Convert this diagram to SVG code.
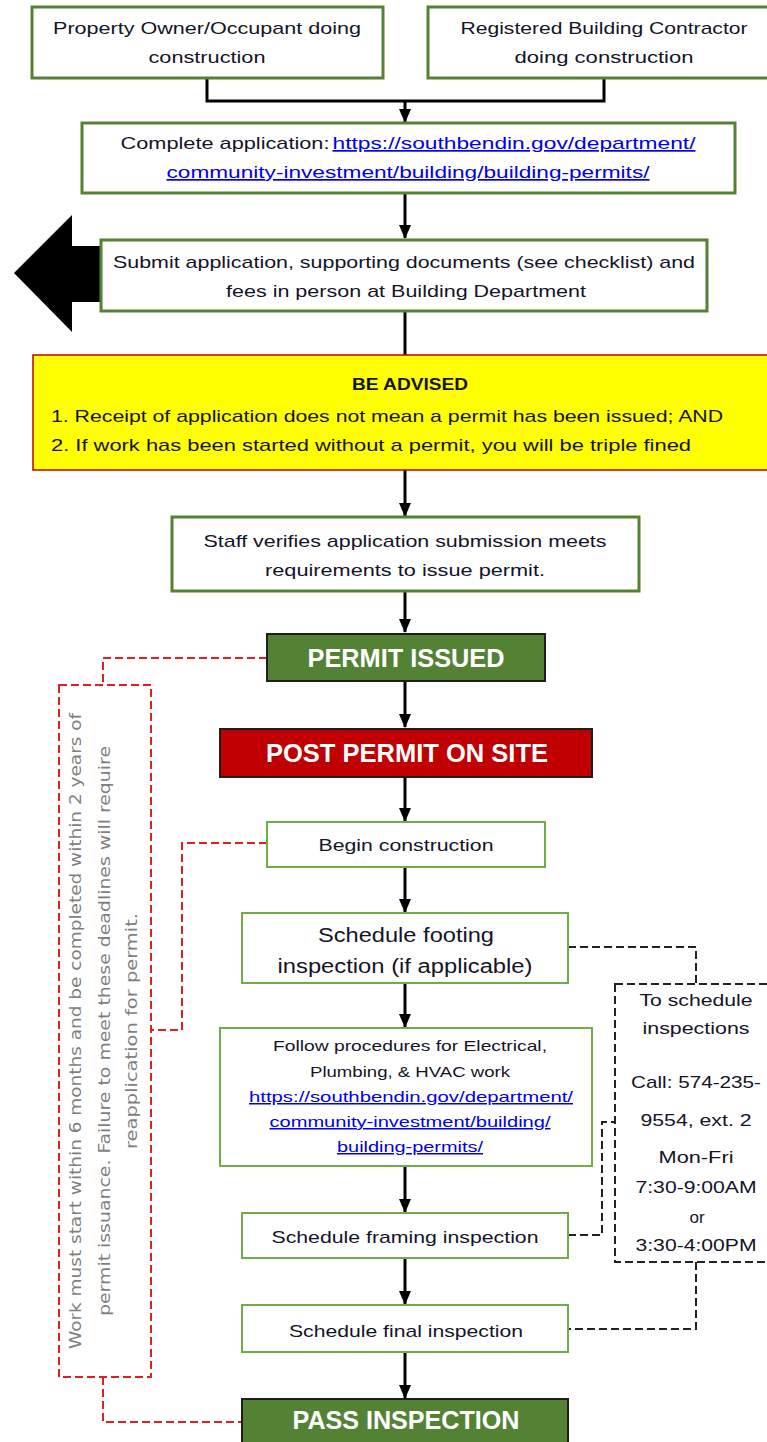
<svg xmlns="http://www.w3.org/2000/svg" width="767" height="1442" viewBox="0 0 767 1442">
<style>
text{font-family:"Liberation Sans",Arial,sans-serif;fill:#141428;text-anchor:middle}
.t{font-size:17px}
.s{font-size:15px}
.b{font-size:20px}
.h{font-size:25px;font-weight:bold;fill:#fff}
.lk{fill:#0000ee;text-decoration:underline}
.gb{fill:#fff;stroke:#548235;stroke-width:3}
.gt{fill:#fff;stroke:#70ad47;stroke-width:2}
.ln{fill:none;stroke:#000;stroke-width:3}
.rd{fill:none;stroke:#e02020;stroke-width:2;stroke-dasharray:8 4}
.bd{fill:none;stroke:#222;stroke-width:2;stroke-dasharray:8 4}
.rot{font-family:"DejaVu Sans",Verdana,sans-serif;font-size:15px;fill:#7f7f7f}
</style>
<defs>
<marker id="ah" markerUnits="userSpaceOnUse" markerWidth="14" markerHeight="12" viewBox="0 0 14 12" refX="13" refY="6" orient="auto">
<path d="M0,0 L14,6 L0,12 Z" fill="#000"/>
</marker>
</defs>
<rect width="767" height="1442" fill="#fff"/>

<g id="connectors">
<polyline class="ln" points="207,78 207,101 604,101 604,78"/>
<line class="ln" x1="405" y1="101" x2="405" y2="122" marker-end="url(#ah)"/>
<line class="ln" x1="405" y1="193" x2="405" y2="238" marker-end="url(#ah)"/>
<line class="ln" x1="405" y1="311" x2="405" y2="356"/>
<line class="ln" x1="405" y1="470" x2="405" y2="516" marker-end="url(#ah)"/>
<line class="ln" x1="405" y1="591" x2="405" y2="632" marker-end="url(#ah)"/>
<line class="ln" x1="405" y1="681" x2="405" y2="727" marker-end="url(#ah)"/>
<line class="ln" x1="405" y1="777" x2="405" y2="821" marker-end="url(#ah)"/>
<line class="ln" x1="405" y1="867" x2="405" y2="912" marker-end="url(#ah)"/>
<line class="ln" x1="405" y1="983" x2="405" y2="1027" marker-end="url(#ah)"/>
<line class="ln" x1="405" y1="1166" x2="405" y2="1212" marker-end="url(#ah)"/>
<line class="ln" x1="405" y1="1258" x2="405" y2="1304" marker-end="url(#ah)"/>
<line class="ln" x1="405" y1="1352" x2="405" y2="1398" marker-end="url(#ah)"/>
<polyline class="rd" points="267,658 103,658 103,685"/>
<polyline class="rd" points="267,843 182,843 182,1030 151,1030"/>
<polyline class="rd" points="103,1377 103,1422 242,1422"/>
<polyline class="bd" points="568,947 696,947 696,984"/>
<polyline class="bd" points="568,1235 602,1235 602,1122 615,1122"/>
<polyline class="bd" points="696,1262 696,1329 568,1329"/>
</g>

<g id="bigarrow">
<polygon points="14,273 72,215 72,246 110,246 110,302 72,302 72,332" fill="#000"/>
</g>

<g id="owner">
<rect class="gb" x="32" y="7" width="351" height="71"/>
<text class="t" x="207" y="34" textLength="308" lengthAdjust="spacingAndGlyphs">Property Owner/Occupant doing</text>
<text class="t" x="207" y="63" textLength="117" lengthAdjust="spacingAndGlyphs">construction</text>
</g>
<g id="contractor">
<rect class="gb" x="428" y="7" width="345" height="71"/>
<text class="t" x="604" y="34" textLength="287" lengthAdjust="spacingAndGlyphs">Registered Building Contractor</text>
<text class="t" x="604" y="63" textLength="179" lengthAdjust="spacingAndGlyphs">doing construction</text>
</g>
<g id="complete">
<rect class="gb" x="82" y="123" width="653" height="70"/>
<text class="t" x="225" y="149" textLength="209" lengthAdjust="spacingAndGlyphs">Complete application:</text>
<text class="t lk" x="514" y="149" textLength="363" lengthAdjust="spacingAndGlyphs">https://southbendin.gov/department/</text>
<text class="t lk" x="408" y="178" textLength="483" lengthAdjust="spacingAndGlyphs">community-investment/building/building-permits/</text>
</g>
<g id="submit">
<rect class="gb" x="101" y="240" width="606" height="71"/>
<text class="t" x="404" y="268" textLength="582" lengthAdjust="spacingAndGlyphs">Submit application, supporting documents (see checklist) and</text>
<text class="t" x="406" y="297" textLength="360" lengthAdjust="spacingAndGlyphs">fees in person at Building Department</text>
</g>
<g id="advised">
<rect x="33" y="355" width="745" height="115" fill="#ffff00" stroke="#c00000" stroke-width="1.5"/>
<text class="t" x="410" y="390" font-weight="bold" textLength="116" lengthAdjust="spacingAndGlyphs">BE ADVISED</text>
<text class="t" x="51" y="422" style="text-anchor:start" textLength="672" lengthAdjust="spacingAndGlyphs">1. Receipt of application does not mean a permit has been issued; AND</text>
<text class="t" x="51" y="451" style="text-anchor:start" textLength="640" lengthAdjust="spacingAndGlyphs">2. If work has been started without a permit, you will be triple fined</text>
</g>
<g id="staff">
<rect class="gb" x="172" y="517" width="467" height="74"/>
<text class="t" x="405" y="547" textLength="403" lengthAdjust="spacingAndGlyphs">Staff verifies application submission meets</text>
<text class="t" x="405" y="576" textLength="280" lengthAdjust="spacingAndGlyphs">requirements to issue permit.</text>
</g>
<g id="permit-issued">
<rect x="267" y="634" width="278" height="47" fill="#548235" stroke="#1e1e1e" stroke-width="2"/>
<text class="h" x="406" y="667" textLength="197" lengthAdjust="spacingAndGlyphs">PERMIT ISSUED</text>
</g>
<g id="post-permit">
<rect x="220" y="729" width="372" height="48" fill="#c00000" stroke="#1e1e1e" stroke-width="2"/>
<text class="h" x="407" y="762" textLength="282" lengthAdjust="spacingAndGlyphs">POST PERMIT ON SITE</text>
</g>
<g id="begin">
<rect class="gt" x="267" y="822" width="278" height="45"/>
<text class="t" x="406" y="851" textLength="175" lengthAdjust="spacingAndGlyphs">Begin construction</text>
</g>
<g id="footing">
<rect class="gt" x="242" y="913" width="326" height="70"/>
<text class="b" x="406" y="942" textLength="176" lengthAdjust="spacingAndGlyphs">Schedule footing</text>
<text class="b" x="405" y="973" textLength="255" lengthAdjust="spacingAndGlyphs">inspection (if applicable)</text>
</g>
<g id="follow">
<rect class="gt" x="220" y="1028" width="372" height="138"/>
<text class="s" x="410" y="1051" textLength="274" lengthAdjust="spacingAndGlyphs">Follow procedures for Electrical,</text>
<text class="s" x="410" y="1077" textLength="200" lengthAdjust="spacingAndGlyphs">Plumbing, &amp; HVAC work</text>
<text class="s lk" x="411" y="1102" textLength="324" lengthAdjust="spacingAndGlyphs">https://southbendin.gov/department/</text>
<text class="s lk" x="410" y="1127" textLength="281" lengthAdjust="spacingAndGlyphs">community-investment/building/</text>
<text class="s lk" x="410" y="1152" textLength="146" lengthAdjust="spacingAndGlyphs">building-permits/</text>
</g>
<g id="framing">
<rect class="gt" x="242" y="1213" width="326" height="45"/>
<text class="t" x="405" y="1243" textLength="267" lengthAdjust="spacingAndGlyphs">Schedule framing inspection</text>
</g>
<g id="final">
<rect class="gt" x="242" y="1305" width="326" height="47"/>
<text class="t" x="406" y="1337" textLength="234" lengthAdjust="spacingAndGlyphs">Schedule final inspection</text>
</g>
<g id="pass">
<rect x="242" y="1399" width="326" height="50" fill="#548235" stroke="#1e1e1e" stroke-width="2"/>
<text class="h" x="406" y="1429" textLength="227" lengthAdjust="spacingAndGlyphs">PASS INSPECTION</text>
</g>
<g id="deadline-note">
<rect class="rd" x="59" y="685" width="92" height="692"/>
<text class="rot" transform="translate(81,1031) rotate(-90)" textLength="636" lengthAdjust="spacingAndGlyphs">Work must start within 6 months and be completed within 2 years of</text>
<text class="rot" transform="translate(110,1031) rotate(-90)" textLength="570" lengthAdjust="spacingAndGlyphs">permit issuance.  Failure to meet these deadlines will require</text>
<text class="rot" transform="translate(137,1031) rotate(-90)" textLength="236" lengthAdjust="spacingAndGlyphs">reapplication for permit.</text>
</g>
<g id="schedule-info">
<rect class="bd" x="615" y="984" width="170" height="278"/>
<text class="t" x="696" y="1006" textLength="113" lengthAdjust="spacingAndGlyphs">To schedule</text>
<text class="t" x="696" y="1034" textLength="107" lengthAdjust="spacingAndGlyphs">inspections</text>
<text class="t" x="696" y="1088" textLength="130" lengthAdjust="spacingAndGlyphs">Call: 574-235-</text>
<text class="t" x="696" y="1126" textLength="111" lengthAdjust="spacingAndGlyphs">9554, ext. 2</text>
<text class="t" x="696" y="1163" textLength="75" lengthAdjust="spacingAndGlyphs">Mon-Fri</text>
<text class="t" x="696" y="1193" textLength="121" lengthAdjust="spacingAndGlyphs">7:30-9:00AM</text>
<text class="t" x="697" y="1223">or</text>
<text class="t" x="696" y="1251" textLength="121" lengthAdjust="spacingAndGlyphs">3:30-4:00PM</text>
</g>
</svg>
